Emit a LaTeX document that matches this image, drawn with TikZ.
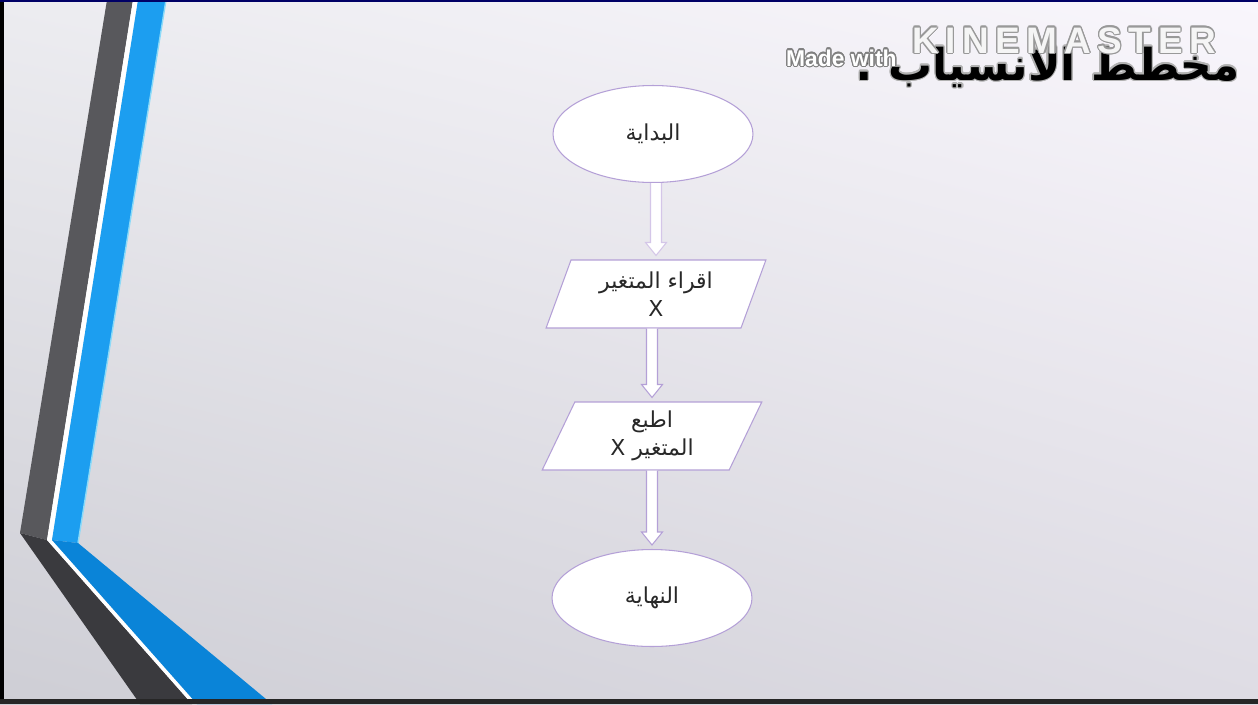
\documentclass[tikz,border=0pt]{standalone}
\usepackage{fontspec}
\usepackage{contour}
\usetikzlibrary{shapes.geometric,calc,shadings}
\newfontfamily\arabicfont[Script=Arabic]{DejaVu Sans}
\newfontfamily\wmfont{Liberation Sans}
\newfontfamily\kmfont[LetterSpace=18]{Liberation Sans}
\TeXXeTstate=1
\definecolor{flowline}{RGB}{180,160,215}
\definecolor{arrowlight}{RGB}{212,198,232}
\definecolor{textgray}{RGB}{40,40,40}
\definecolor{bgtl}{RGB}{236,236,240}
\definecolor{bgtr}{RGB}{249,246,252}
\definecolor{bgbl}{RGB}{206,206,213}
\definecolor{bgbr}{RGB}{222,220,228}
\definecolor{bardark}{RGB}{88,88,92}
\definecolor{bardeep}{RGB}{58,58,62}
\definecolor{barblue}{RGB}{28,158,240}
\definecolor{bluedeep}{RGB}{10,132,216}
\contourlength{0.7pt}
\begin{document}
\begin{tikzpicture}[x=0.02cm,y=-0.02cm,
    box/.style={draw=flowline,fill=white,line width=0.6pt,text=textgray,
        font=\arabicfont\fontsize{12.5}{16}\selectfont,align=center},
    terminal/.style={box,ellipse,minimum width=4cm,minimum height=1.94cm},
    io/.style={box,trapezium,trapezium left angle=72,trapezium right angle=108,
        trapezium stretches=true,minimum width=4.42cm,minimum height=1.36cm},
    flowarrow/.style={draw=#1,fill=white,line width=0.6pt,line join=miter}]
    \useasboundingbox (0,0) rectangle (1258,704);
    \shade[upper left=bgtl,upper right=bgtr,lower left=bgbl,lower right=bgbr]
        (0,0) rectangle (1258,704);

    % slide bars
    \fill[bardark] (107,0) -- (133,0) -- (47,540) -- (20,533) -- cycle;
    \fill[white] (133,0) -- (138,0) -- (52,540) -- (47,540) -- cycle;
    \fill[barblue] (138,0) -- (166,0) -- (78,543) -- (52,540) -- cycle;
    \draw[cyan!45,line width=0.8pt] (166,0) -- (78,543);
    \fill[bardeep] (20,533) -- (47,540) -- (192,704) -- (140,704) -- cycle;
    \fill[white] (47,540) -- (52,540) -- (197,704) -- (192,704) -- cycle;
    \fill[bluedeep] (52,540) -- (78,543) -- (272,704) -- (197,704) -- cycle;

    % frame
    \fill[black] (0,0) rectangle (4,704);
    \fill[black!85] (0,699) rectangle (1258,704);
    \fill[blue!40!black] (0,0) rectangle (1258,2);

    \node[font=\arabicfont\bfseries\fontsize{25}{28}\selectfont,anchor=base east]
        (title) at (1246,80) {\contour{black!30}{\beginR مخطط الانسياب :\endR}};
    \node[font=\wmfont\bfseries\fontsize{13}{13}\selectfont,anchor=base west]
        (madewith) at (780,66) {\contour{gray}{\textcolor{white}{Made with}}};
    \node[font=\kmfont\bfseries\fontsize{21}{21}\selectfont,anchor=base west,opacity=0.9]
        (kinemaster) at (906,53) {\contour{gray!80}{\textcolor{white}{KINEMASTER}}};

    \node[terminal] (start) at (653,134) {\beginR البداية\endR};
    \node[io] (read) at (656,294) {\beginR اقراء المتغير\endR\\X};
    \node[io] (print) at (652,436) {\beginR اطبع\endR\\\beginR المتغير X\endR};
    \node[terminal] (stop) at (652,598) {\beginR النهاية\endR};

    \foreach \a/\b/\c in {start/read/arrowlight,read/print/flowline,print/stop/flowline}
        \draw[flowarrow=\c] ($(\a.south -| \b.north)+(-5.5,0)$)
            -- ($(\b.north)+(-5.5,-17)$) -- ($(\b.north)+(-10.5,-17)$)
            -- ($(\b.north)+(0,-4)$)
            -- ($(\b.north)+(10.5,-17)$) -- ($(\b.north)+(5.5,-17)$)
            -- ($(\a.south -| \b.north)+(5.5,0)$);
\end{tikzpicture}
\end{document}
